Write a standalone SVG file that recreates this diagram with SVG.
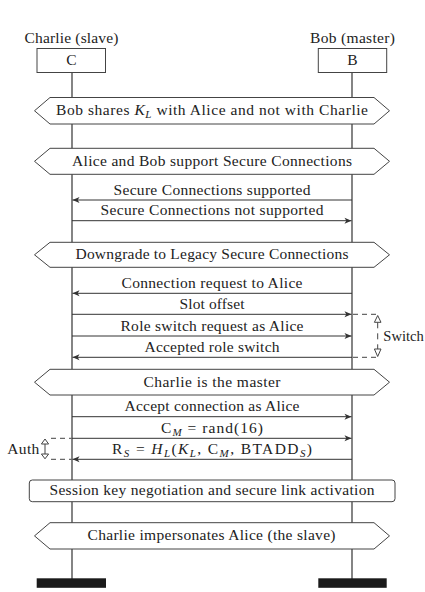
<svg xmlns="http://www.w3.org/2000/svg" width="425" height="592" viewBox="0 0 425 592">
<style>
text { font-family: "Liberation Serif", "DejaVu Serif", serif; font-size: 15.5px; fill: #222; }
.c { text-anchor: middle; }
.i { font-style: italic; }
.sub { font-size: 11px; }
.life { stroke: #333; stroke-width: 1.2; fill: none; }
.hex, .box { fill: #fff; stroke: #444; stroke-width: 1; }
.msg { stroke: #333; stroke-width: 1; fill: none; marker-end: url(#ah); }
.dash { stroke: #444; stroke-width: 1; stroke-dasharray: 5 4; fill: none; }
.tri { fill: #fff; stroke: #444; stroke-width: 1; }
.bar { fill: #1a1a1a; }
</style>
<defs>
<marker id="ah" markerUnits="userSpaceOnUse" markerWidth="10" markerHeight="8" viewBox="-8 -4 10 8" refX="0" refY="0" orient="auto">
<path d="M0,0 L-7,-3 L-5.2,0 L-7,3 Z" fill="#333"/>
</marker>
</defs>

<g id="lifelines">
<line class="life" x1="72" y1="72.5" x2="72" y2="579"/>
<line class="life" x1="352" y1="72.5" x2="352" y2="579"/>
</g>

<g id="charlie">
<text class="c" x="71.5" y="42.5" textLength="94">Charlie (slave)</text>
<rect class="box" x="37" y="48.5" width="68.5" height="24"/>
<text class="c" x="71.5" y="64.5">C</text>
<rect class="bar" x="36.7" y="578.3" width="69.3" height="9.5"/>
</g>

<g id="bob">
<text class="c" x="352.5" y="42.5" textLength="85">Bob (master)</text>
<rect class="box" x="318.3" y="48.5" width="68.4" height="24"/>
<text class="c" x="352.5" y="64.5">B</text>
<rect class="bar" x="318.3" y="578.3" width="68.4" height="9.5"/>
</g>

<g id="hex1">
<path class="hex" d="M34.5,110.75 L50,97.5 L374,97.5 L389.5,110.75 L374,124 L50,124 Z"/>
<text class="c" x="212" y="115" textLength="312">Bob shares <tspan class="i">K</tspan><tspan class="i sub" dy="3">L</tspan><tspan dy="-3"> with Alice and not with Charlie</tspan></text>
</g>

<g id="hex2">
<path class="hex" d="M34.5,161.3 L50,148.3 L374,148.3 L389.5,161.3 L374,174.3 L50,174.3 Z"/>
<text class="c" x="212" y="165.6" textLength="280">Alice and Bob support Secure Connections</text>
</g>

<g id="hex3">
<path class="hex" d="M34.5,254.8 L50,242.3 L374,242.3 L389.5,254.8 L374,267.3 L50,267.3 Z"/>
<text class="c" x="212" y="259.2" textLength="273">Downgrade to Legacy Secure Connections</text>
</g>

<g id="hex4">
<path class="hex" d="M34.5,382.2 L50,369.3 L374,369.3 L389.5,382.2 L374,395 L50,395 Z"/>
<text class="c" x="212" y="386.5" textLength="137">Charlie is the master</text>
</g>

<g id="session">
<rect class="hex" x="29.3" y="480" width="365.7" height="21.7" rx="3"/>
<text class="c" x="212" y="495" textLength="325">Session key negotiation and secure link activation</text>
</g>

<g id="hex5">
<path class="hex" d="M34.5,535.9 L50,522.7 L374,522.7 L389.5,535.9 L374,549 L50,549 Z"/>
<text class="c" x="211.5" y="540.3" textLength="248">Charlie impersonates Alice (the slave)</text>
</g>

<g id="connectors">
<line class="msg" x1="352" y1="200" x2="72.5" y2="200"/>
<text class="c" x="212" y="194.5" textLength="197">Secure Connections supported</text>

<line class="msg" x1="72" y1="220.7" x2="351.5" y2="220.7"/>
<text class="c" x="212" y="215.2" textLength="223">Secure Connections not supported</text>

<line class="msg" x1="352" y1="293.3" x2="72.5" y2="293.3"/>
<text class="c" x="212" y="288" textLength="181">Connection request to Alice</text>

<line class="msg" x1="72" y1="314.3" x2="351.5" y2="314.3"/>
<text class="c" x="212" y="309" textLength="65">Slot offset</text>

<line class="msg" x1="72" y1="336" x2="351.5" y2="336"/>
<text class="c" x="212" y="330.6" textLength="183">Role switch request as Alice</text>

<line class="msg" x1="352" y1="357.3" x2="72.5" y2="357.3"/>
<text class="c" x="212" y="351.9" textLength="135">Accepted role switch</text>

<line class="msg" x1="72" y1="416.7" x2="351.5" y2="416.7"/>
<text class="c" x="212" y="411.2" textLength="175">Accept connection as Alice</text>

<line class="msg" x1="72" y1="438.3" x2="351.5" y2="438.3"/>
<text class="c" x="212" y="432.8" textLength="102">C<tspan class="i sub" dy="3">M</tspan><tspan dy="-3"> = rand(16)</tspan></text>

<line class="msg" x1="352" y1="459.3" x2="72.5" y2="459.3"/>
<text class="c" x="212" y="453.8" textLength="200">R<tspan class="i sub" dy="3">S</tspan><tspan dy="-3"> = </tspan><tspan class="i">H</tspan><tspan class="i sub" dy="3">L</tspan><tspan dy="-3">(</tspan><tspan class="i">K</tspan><tspan class="i sub" dy="3">L</tspan><tspan dy="-3">, C</tspan><tspan class="i sub" dy="3">M</tspan><tspan dy="-3">, BTADD</tspan><tspan class="i sub" dy="3">S</tspan><tspan dy="-3">)</tspan></text>
</g>

<g id="switch">
<path class="dash" d="M353,314.3 H377.7 M353,357.3 H377.7"/>
<line class="dash" x1="377.7" y1="322.3" x2="377.7" y2="349" style="stroke-dasharray:6 5"/>
<path class="tri" d="M377.7,315.5 L381,322.3 L374.4,322.3 Z"/>
<path class="tri" d="M377.7,356.5 L381,349 L374.4,349 Z"/>
<text x="383.3" y="341" textLength="40.5" lengthAdjust="spacingAndGlyphs">Switch</text>
</g>

<g id="auth">
<path class="dash" d="M51,438.3 H71.5 M51,459.3 H71.5"/>
<line x1="45" y1="444" x2="45" y2="454" stroke="#444" stroke-width="1"/>
<path class="tri" d="M45,439 L48.6,444 L41.4,444 Z"/>
<path class="tri" d="M45,458.8 L48.6,454 L41.4,454 Z"/>
<text x="7.3" y="454" textLength="32">Auth</text>
</g>
</svg>
